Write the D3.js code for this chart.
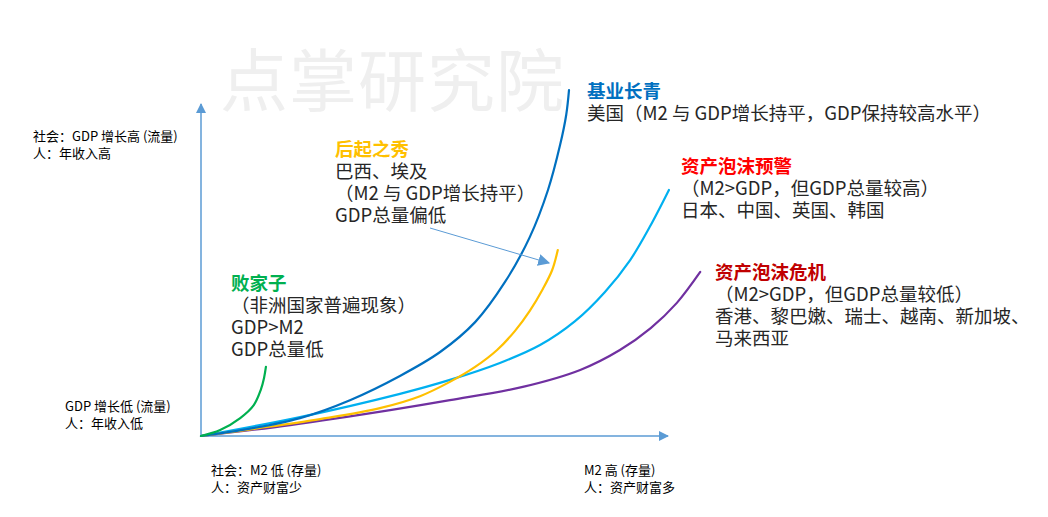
<!DOCTYPE html>
<html><head><meta charset="utf-8">
<script src="https://cdn.jsdelivr.net/npm/d3@7"></script>
<style>
html,body{margin:0;padding:0;background:#fff;}
svg{display:block;font-family:"Noto Sans CJK SC","Noto Sans",sans-serif;}
</style></head>
<body><svg id="c" width="1048" height="517"></svg>
<script>
// Conceptual curves: x = M2 (stock), y = GDP growth (flow), units 0..100
const seriesNames = ["败家子","基业长青","后起之秀","资产泡沫预警","资产泡沫危机"];
const seriesColors = ["#00B050","#0070C0","#FFC000","#00B0F0","#7030A0"];
const greenX = [0,4.1,8.4,11.3,12.8,13.5,13.9];
const greenY = [0,1.8,5.4,9.3,13.9,17.5,20.8];
const blueX = [0,10.5,21.2,31.9,42.6,51.2,58.7,65.1,70.4,74.3,76.9,78.2,78.8];
const blueY = [0,2.2,5.4,10.8,18.1,25.3,34.3,46.4,59.9,74.1,87.7,96.7,104.2];
const orangeX = [0,12.6,25.5,38.3,46.9,53.3,58.7,63.4,67.2,70.4,73.2,75.2,76.4];
const orangeY = [0,2.4,5.1,8.4,12.0,16.3,20.8,25.9,31.6,37.7,44.3,50.0,56.0];
const cyanX = [0,21.2,42.6,53.3,64.0,72.6,80.1,86.5,91.9,96.1,100.2];
const cyanY = [0,5.7,12.7,16.9,22.0,27.4,34.6,43.4,53.0,63.0,74.1];
const purpleX = [0,19.1,40.5,53.3,68.9,81.2,89.7,96.3,101.9,106.9];
const purpleY = [0,3.3,7.8,10.8,14.8,19.9,25.9,32.5,40.1,49.4];
const axisLabels = {
  yTop: ["社会：GDP 增长高 (流量)","人：年收入高"],
  yBottom: ["GDP 增长低 (流量)","人：年收入低"],
  xLeft: ["社会：M2 低 (存量)","人：资产财富少"],
  xRight: ["M2 高 (存量)","人：资产财富多"]
};
const noteTitles = ["基业长青","后起之秀","资产泡沫预警","资产泡沫危机","败家子"];
const noteTitleColors = ["#0070C0","#FFC000","#FF0000","#C00000","#00B050"];
const noteBodies = [
  ["美国（M2 与 GDP增长持平，GDP保持较高水平）"],
  ["巴西、埃及","（M2 与 GDP增长持平）","GDP总量偏低"],
  ["（M2>GDP，但GDP总量较高）","日本、中国、英国、韩国"],
  ["（M2>GDP，但GDP总量较低）","香港、黎巴嫩、瑞士、越南、新加坡、","马来西亚"],
  ["（非洲国家普遍现象）","GDP>M2","GDP总量低"]
];
const noteAnchors = [[587,98],[335,156],[681,173],[715,279],[231,290]];

const svg = d3.select("#c");
const x = d3.scaleLinear().domain([0,100]).range([201,668]);
const y = d3.scaleLinear().domain([0,100]).range([436,104]);

// watermark
svg.append("text").attr("x",220).attr("y",106).attr("font-size",68)
  .attr("fill","#efefef").attr("letter-spacing",1).text("点掌研究院");

const defs = svg.append("defs");
defs.append("marker").attr("id","arr").attr("viewBox","0 0 10 10")
  .attr("refX",9).attr("refY",5).attr("markerWidth",10).attr("markerHeight",10)
  .attr("markerUnits","userSpaceOnUse").attr("orient","auto")
  .append("path").attr("d","M0,0L10,5L0,10Z").attr("fill","#5B9BD5");
defs.append("marker").attr("id","arr2").attr("viewBox","0 0 10 10")
  .attr("refX",9).attr("refY",5).attr("markerWidth",12).attr("markerHeight",12)
  .attr("markerUnits","userSpaceOnUse").attr("orient","auto")
  .append("path").attr("d","M0,0L10,5L0,10Z").attr("fill","#5B9BD5");

// axes
svg.append("line").attr("x1",x(0)).attr("y1",y(0)+1).attr("x2",x(0)).attr("y2",y(100))
  .attr("stroke","#5B9BD5").attr("stroke-width",1.5).attr("marker-end","url(#arr)");
svg.append("line").attr("x1",x(0)-1).attr("y1",y(0)).attr("x2",x(100)).attr("y2",y(0))
  .attr("stroke","#5B9BD5").attr("stroke-width",1.5).attr("marker-end","url(#arr)");

const line = d3.line().x(d=>x(d[0])).y(d=>y(d[1])).curve(d3.curveCatmullRom.alpha(0.5));
const allSeries = [
  [greenX,greenY],[blueX,blueY],[orangeX,orangeY],[cyanX,cyanY],[purpleX,purpleY]
];
const order = [4,3,2,1,0];
order.forEach(i=>{
  const [xs,ys] = allSeries[i];
  svg.append("path").attr("d",line(xs.map((v,k)=>[v,ys[k]])))
    .attr("fill","none").attr("stroke",seriesColors[i]).attr("stroke-width",2.2)
    .attr("stroke-linecap","round");
});

// annotation arrow
svg.append("line").attr("x1",430).attr("y1",228).attr("x2",549).attr("y2",263)
  .attr("stroke","#5B9BD5").attr("stroke-width",1).attr("marker-end","url(#arr2)");

// notes
noteTitles.forEach((t,i)=>{
  const [nx,ny] = noteAnchors[i];
  const tx = svg.append("text").attr("x",nx).attr("y",ny).attr("font-size",18.5);
  tx.append("tspan").attr("x",nx).attr("y",ny).attr("font-weight",700)
    .attr("fill",noteTitleColors[i]).text(t);
  noteBodies[i].forEach((b,j)=>{
    tx.append("tspan").attr("x",nx).attr("y",ny+22*(j+1))
      .attr("fill","#262626").text(b);
  });
});

// axis labels
function lbl(lines,lx,ly){
  const tx = svg.append("text").attr("font-size",13).attr("fill","#000");
  lines.forEach((s,j)=>tx.append("tspan").attr("x",lx).attr("y",ly+17*j).text(s));
}
lbl(axisLabels.yTop,33,141);
lbl(axisLabels.yBottom,65,411);
lbl(axisLabels.xLeft,211,475);
lbl(axisLabels.xRight,584,475);
</script></body></html>
